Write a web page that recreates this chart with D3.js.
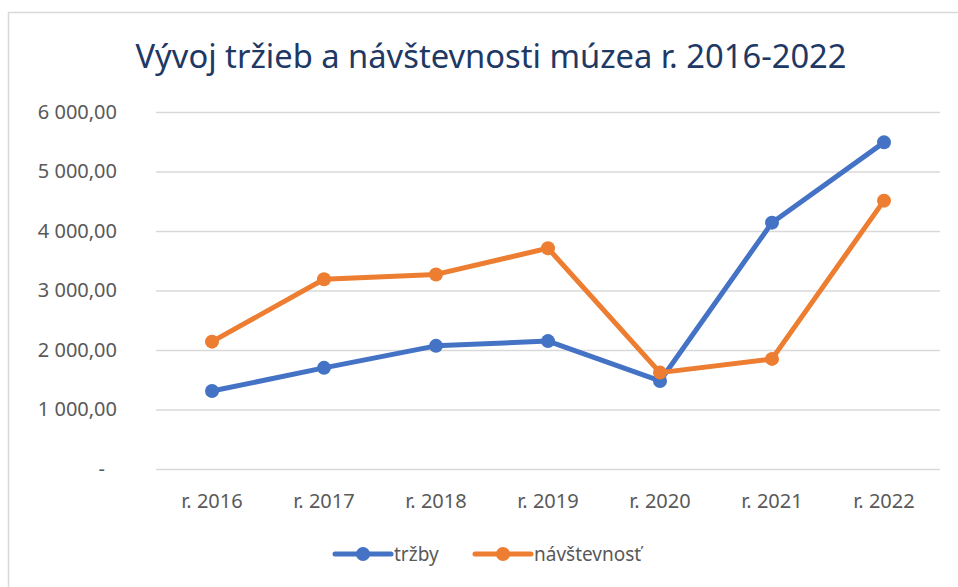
<!DOCTYPE html>
<html>
<head>
<meta charset="utf-8">
<script src="https://cdn.jsdelivr.net/npm/d3@7"></script>
<style>
  body { margin: 0; background: #fff; }
  .tick text { font-family: "Noto Sans", sans-serif; }
</style>
</head>
<body>
<div id="chart"></div>
<script>
// data
var years = ["r. 2016", "r. 2017", "r. 2018", "r. 2019", "r. 2020", "r. 2021", "r. 2022"];
var trzby = [1310, 1700, 2070, 2150, 1480, 4140, 5490];
var navstevnost = [2140, 3190, 3270, 3710, 1620, 1850, 4510];
var yTicks = [0, 1000, 2000, 3000, 4000, 5000, 6000];
var seriesNames = ["tržby", "návštevnosť"];
var seriesColors = ["#4472C4", "#ED7D31"];

var width = 958, height = 587;
var margin = { top: 112, right: 18, bottom: 118, left: 156 };

var svg = d3.select("#chart")
  .append("svg")
  .attr("width", width)
  .attr("height", height);

// outer chart border (only top and left visible in the picture)
svg.append("rect")
  .attr("x", 8.5)
  .attr("y", 12.5)
  .attr("width", 980)
  .attr("height", 620)
  .attr("fill", "none")
  .attr("stroke", "#d9d9d9")
  .attr("stroke-width", 1.5);

// title
svg.append("text")
  .attr("x", 491)
  .attr("y", 68)
  .attr("text-anchor", "middle")
  .attr("textLength", 711)
  .attr("lengthAdjust", "spacingAndGlyphs")
  .style("font-family", "'Noto Sans', sans-serif")
  .style("font-size", "32px")
  .style("fill", "#203864")
  .text("Vývoj tržieb a návštevnosti múzea r. 2016-2022");

// scales
var x = d3.scaleBand()
  .domain(years)
  .range([margin.left, width - margin.right]);

var y = d3.scaleLinear()
  .domain([0, 6000])
  .range([height - margin.bottom, margin.top]);

var loc = d3.formatLocale({ decimal: ",", thousands: "\u00a0", grouping: [3] });
var fmt = loc.format(",.2f");

// Y axis with gridlines
var yAxis = svg.append("g")
  .attr("transform", "translate(" + margin.left + ",0)")
  .call(d3.axisLeft(y)
    .tickValues(yTicks)
    .tickSize(-(width - margin.left - margin.right))
    .tickPadding(39)
    .tickFormat(function (d) { return d === 0 ? "-" : fmt(d); }));
yAxis.select(".domain").remove();
yAxis.selectAll("line")
  .attr("stroke", "#d9d9d9")
  .attr("stroke-width", 1.5);
yAxis.selectAll("text")
  .style("font-size", "20px")
  .style("fill", "#595959")
  .attr("dx", function (d) { return d === 0 ? -12 : 0; });

// X axis
var xAxis = svg.append("g")
  .attr("transform", "translate(0," + (height - margin.bottom) + ")")
  .call(d3.axisBottom(x).tickSize(0).tickPadding(25));
xAxis.select(".domain").remove();
xAxis.selectAll("text")
  .style("font-size", "20px")
  .style("fill", "#595959");

// Lines and markers
var allSeries = [trzby, navstevnost];
var line = d3.line()
  .x(function (d, i) { return x(years[i]) + x.bandwidth() / 2; })
  .y(function (d) { return y(d); });

allSeries.forEach(function (vals, s) {
  svg.append("path")
    .datum(vals)
    .attr("d", line)
    .attr("fill", "none")
    .attr("stroke", seriesColors[s])
    .attr("stroke-width", 5)
    .attr("stroke-linejoin", "round")
    .attr("stroke-linecap", "round");

  svg.selectAll("mycircle" + s)
    .data(vals)
    .enter()
    .append("circle")
    .attr("cx", function (d, i) { return x(years[i]) + x.bandwidth() / 2; })
    .attr("cy", function (d) { return y(d); })
    .attr("r", 7)
    .style("fill", seriesColors[s]);
});

// Legend
var legendX = [335, 475];
var legend = svg.selectAll("mylegend")
  .data(seriesNames)
  .enter()
  .append("g")
  .attr("transform", function (d, i) { return "translate(" + legendX[i] + ",554)"; });
legend.append("line")
  .attr("x1", 0).attr("x2", 56)
  .attr("stroke", function (d, i) { return seriesColors[i]; })
  .attr("stroke-width", 5)
  .attr("stroke-linecap", "round");
legend.append("circle")
  .attr("cx", 28)
  .attr("r", 7)
  .style("fill", function (d, i) { return seriesColors[i]; });
legend.append("text")
  .attr("x", 59)
  .attr("y", 7)
  .style("font-family", "'Noto Sans', sans-serif")
  .style("font-size", "19px")
  .style("fill", "#595959")
  .text(function (d) { return d; });
</script>
</body>
</html>
